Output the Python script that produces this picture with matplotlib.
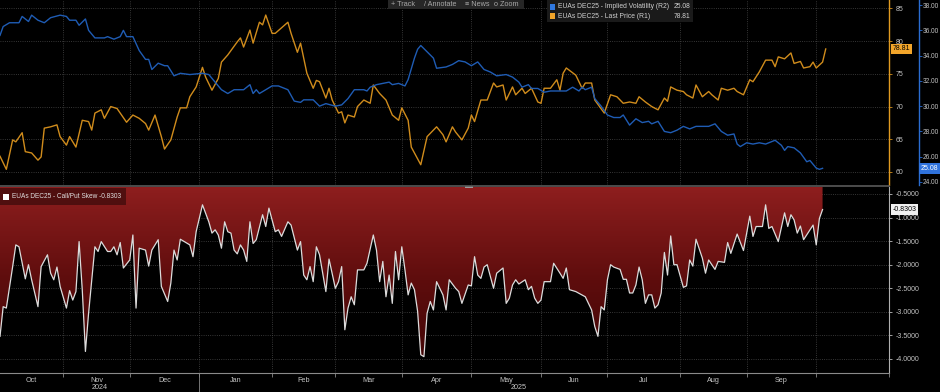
import numpy as np
import pandas as pd
import matplotlib
matplotlib.use('Agg')
import matplotlib.pyplot as plt
import matplotlib.transforms as mtransforms
from matplotlib.colors import LinearSegmentedColormap
from matplotlib.patches import Rectangle

plt.rcParams['font.family'] = ['Liberation Sans', 'DejaVu Sans']

# x values are trading days counted from the first date
start_date = '2024-10-04'

price_day = [0, 2, 4, 5, 7, 8, 10, 12, 13, 14,
             16, 18, 19, 21, 22, 24, 26, 28, 29, 30,
             32, 33, 35, 37, 40, 42, 44, 46, 47, 49,
             51, 52, 54, 56, 57, 59, 60, 62, 64, 65,
             67, 69, 70, 72, 75, 76, 77, 79, 80, 82,
             83, 84, 86, 87, 91, 92, 94, 95, 97, 99,
             100, 101, 103, 104, 105, 107, 108, 109, 110, 112,
             113, 115, 117, 118, 120, 121, 122, 124, 126, 127,
             129, 130, 133, 135, 137, 138, 140, 141, 143, 144,
             146, 148, 149, 150, 152, 154, 156, 157, 159, 160,
             162, 163, 165, 166, 168, 170, 171, 172, 174, 176,
             177, 178, 179, 182, 184, 185, 187, 188, 191, 193,
             195, 197, 199, 201, 202, 204, 206, 208, 210, 211,
             212, 214, 216, 217, 219, 220, 222, 224, 225, 227,
             228, 230, 232, 233, 235, 237, 238, 240, 242, 244,
             245, 246, 248, 250, 251, 253, 254, 256, 257, 258,
             260, 261]
price = [62.4, 60.4, 64.9, 64.6, 66.0, 63.1, 62.9, 61.8, 62.3, 66.7,
         66.9, 67.2, 65.4, 64.1, 65.4, 63.8, 67.9, 67.7, 66.4, 69.0,
         69.5, 68.2, 70.0, 69.7, 67.6, 68.7, 68.2, 67.4, 66.4, 68.7,
         65.4, 63.5, 64.9, 68.4, 69.8, 69.8, 71.5, 73.0, 76.0, 74.5,
         72.5, 74.3, 76.8, 77.9, 79.9, 80.5, 79.1, 81.7, 79.7, 82.9,
         82.5, 84.0, 81.2, 81.2, 82.9, 81.2, 78.3, 79.7, 75.1, 72.8,
         74.0, 73.8, 71.3, 72.8, 71.0, 69.0, 69.2, 67.5, 68.7, 68.4,
         70.0, 71.0, 70.5, 73.3, 72.0, 71.5, 71.0, 68.7, 67.9, 69.8,
         67.9, 63.8, 61.1, 65.4, 66.4, 66.9, 65.7, 64.6, 66.9, 66.1,
         64.9, 66.7, 68.7, 67.7, 71.0, 71.0, 73.6, 73.0, 73.3, 71.0,
         73.0, 71.8, 72.8, 72.0, 72.8, 70.7, 70.5, 72.8, 72.8, 74.1,
         72.5, 75.1, 75.9, 74.8, 72.8, 73.6, 73.6, 71.0, 69.0, 71.8,
         71.5, 70.5, 70.7, 70.5, 71.5, 70.7, 70.0, 69.5, 71.3, 70.8,
         73.0, 72.5, 72.3, 71.8, 71.3, 73.3, 71.5, 72.3, 71.8, 71.0,
         72.8, 72.5, 72.8, 72.3, 71.8, 74.1, 73.8, 75.3, 77.1, 77.1,
         76.1, 77.6, 77.3, 78.2, 76.6, 76.9, 75.9, 76.1, 76.8, 75.9,
         76.8, 78.81]

vol_day = [0, 1, 3, 6, 7, 9, 10, 12, 14, 16,
           19, 21, 22, 24, 25, 27, 28, 30, 33, 34,
           36, 38, 39, 40, 42, 44, 46, 47, 48, 50,
           52, 53, 55, 57, 60, 64, 66, 68, 70, 72,
           74, 77, 79, 80, 81, 82, 84, 86, 88, 91,
           93, 95, 96, 99, 101, 103, 106, 108, 110, 112,
           115, 116, 117, 119, 121, 123, 124, 126, 128, 129,
           131, 132, 133, 135, 137, 138, 141, 143, 145, 147,
           149, 151, 153, 155, 157, 160, 162, 164, 165, 167,
           168, 170, 172, 174, 176, 177, 179, 181, 183, 184,
           185, 187, 188, 190, 192, 194, 196, 197, 199, 201,
           203, 205, 206, 208, 210, 212, 214, 216, 218, 220,
           222, 224, 226, 228, 230, 232, 233, 234, 236, 238,
           240, 242, 244, 245, 247, 248, 249, 251, 253, 255,
           256, 258, 259, 260]
vol = [35.6, 36.3, 36.6, 36.6, 37.1, 36.7, 37.2, 36.8, 36.6, 37.0,
       37.2, 37.1, 36.8, 36.8, 36.4, 36.9, 36.0, 35.4, 35.4, 35.5,
       35.3, 35.5, 36.0, 35.5, 35.5, 34.4, 33.7, 33.7, 32.9, 33.4,
       33.2, 33.2, 32.4, 32.6, 32.5, 32.6, 32.5, 31.9, 31.3, 31.0,
       31.3, 31.3, 31.7, 31.0, 31.3, 31.0, 31.3, 31.6, 31.6, 31.3,
       30.4, 30.3, 30.5, 30.5, 30.0, 30.2, 30.0, 30.1, 30.6, 31.3,
       31.3, 31.2, 31.5, 31.7, 31.8, 31.9, 31.7, 31.8, 31.6, 32.1,
       33.8, 34.5, 34.8, 34.3, 33.8, 33.0, 33.1, 33.3, 33.6, 33.5,
       33.2, 33.5, 32.9, 32.7, 32.4, 32.5, 32.3, 31.9, 31.5, 31.7,
       31.4, 31.4, 31.1, 31.2, 31.2, 31.2, 31.2, 31.5, 31.2, 31.5,
       31.3, 31.5, 30.6, 30.0, 29.3, 29.1, 29.1, 29.3, 28.5, 29.0,
       28.7, 28.8, 28.6, 28.8, 28.0, 27.9, 28.1, 28.4, 28.2, 28.4,
       28.4, 28.4, 28.6, 28.0, 27.7, 27.8, 27.0, 26.8, 27.1, 27.0,
       27.1, 27.0, 27.2, 27.3, 26.9, 26.5, 26.8, 26.7, 26.3, 25.6,
       25.7, 25.1, 25.0, 25.08]

skew_day = [0, 1, 2, 4, 5, 6, 8, 9, 10, 12,
            13, 15, 16, 17, 18, 19, 21, 22, 23, 24,
            25, 26, 27, 28, 29, 30, 31, 32, 34, 35,
            36, 37, 38, 39, 41, 42, 43, 44, 46, 47,
            48, 50, 51, 53, 54, 55, 56, 57, 60, 61,
            62, 64, 66, 67, 68, 69, 70, 71, 72, 73,
            74, 75, 76, 77, 78, 79, 80, 81, 83, 84,
            85, 87, 88, 89, 91, 92, 94, 95, 96, 97,
            98, 99, 100, 101, 103, 104, 106, 107, 108, 109,
            110, 111, 112, 113, 115, 116, 118, 119, 120, 121,
            122, 123, 124, 125, 126, 127, 128, 129, 130, 131,
            132, 133, 134, 135, 136, 137, 138, 140, 141, 142,
            144, 145, 146, 148, 149, 150, 151, 152, 153, 154,
            155, 156, 157, 159, 160, 161, 162, 163, 164, 166,
            167, 168, 169, 170, 171, 172, 174, 175, 177, 178,
            179, 180, 182, 185, 186, 187, 188, 189, 190, 191,
            192, 193, 194, 196, 197, 198, 199, 200, 201, 202,
            203, 204, 205, 206, 207, 208, 209, 210, 211, 212,
            213, 214, 216, 217, 218, 219, 220, 222, 223, 224,
            226, 227, 229, 230, 231, 233, 235, 237, 238, 239,
            241, 242, 243, 244, 246, 248, 249, 250, 251, 252,
            253, 254, 257, 258, 259, 260]
skew = [-3.52, -2.89, -2.92, -2.04, -1.58, -1.62, -2.30, -2.00, -2.32, -2.89,
        -2.04, -1.79, -2.18, -2.32, -2.05, -2.46, -2.92, -2.55, -2.75, -2.57,
        -1.51, -2.53, -3.84, -3.03, -2.32, -1.62, -1.72, -1.51, -1.72, -1.72,
        -1.62, -1.79, -1.53, -2.07, -1.90, -1.37, -2.92, -1.65, -1.69, -2.03,
        -1.69, -1.47, -2.46, -2.78, -2.39, -1.69, -1.90, -1.46, -1.58, -1.83,
        -1.30, -0.73, -1.09, -1.33, -1.26, -1.37, -1.65, -1.09, -1.30, -1.33,
        -1.69, -1.77, -1.58, -1.69, -1.93, -1.09, -1.55, -1.47, -0.94, -1.19,
        -0.80, -1.30, -1.26, -1.40, -1.09, -1.16, -1.69, -1.51, -2.22, -2.32,
        -2.04, -2.36, -1.62, -1.79, -2.57, -1.88, -2.50, -2.36, -2.04, -3.38,
        -2.92, -2.68, -2.85, -2.11, -2.11, -1.97, -1.37, -1.69, -2.36, -1.93,
        -2.68, -2.22, -2.82, -1.72, -2.32, -1.62, -2.11, -2.64, -2.39, -2.53,
        -2.99, -3.91, -3.95, -3.03, -2.78, -2.96, -2.36, -2.64, -2.96, -2.32,
        -2.50, -2.57, -2.82, -2.43, -2.45, -1.83, -2.22, -2.29, -2.05, -2.00,
        -2.25, -2.50, -2.18, -2.07, -2.82, -2.71, -2.43, -2.32, -2.41, -2.32,
        -2.53, -2.46, -2.71, -2.82, -2.75, -2.36, -2.36, -1.97, -2.18, -2.29,
        -2.07, -2.53, -2.57, -2.68, -2.82, -2.96, -3.31, -3.52, -2.89, -2.96,
        -2.32, -2.00, -2.05, -2.10, -2.31, -2.31, -2.60, -2.60, -2.43, -2.05,
        -2.32, -2.82, -2.64, -2.64, -2.92, -2.85, -2.60, -1.74, -2.22, -1.39,
        -2.00, -2.00, -2.48, -2.45, -1.90, -2.03, -1.46, -1.86, -2.18, -1.90,
        -2.10, -1.93, -1.95, -1.53, -1.76, -1.35, -1.70, -0.97, -1.40, -1.19,
        -1.19, -0.73, -1.23, -1.19, -1.51, -0.90, -1.19, -0.94, -1.05, -1.33,
        -1.18, -1.47, -1.16, -1.58, -1.02, -0.83]

price_ticks = [60, 65, 70, 75, 80, 85]
vol_ticks = [24, 26, 28, 30, 32, 34, 36, 38]
skew_ticks = [-4.0, -3.5, -3.0, -2.5, -2.0, -1.5, -1.0, -0.5]

last_price = 78.81
last_vol = 25.08
last_skew = -0.8303

price_name = 'EUAs DEC25 - Last Price (R1)'
vol_name = 'EUAs DEC25 - Implied Volatility (R2)'
skew_name = 'EUAs DEC25 - Call/Put Skew'

ORANGE = '#d08c1c'
BLUE = '#1f5cb4'
GRID = '#484848'
TXT = '#c4c4c4'

W, H = 940, 392
fig = plt.figure(figsize=(W / 100, H / 100), dpi=100, facecolor='black')


def fig_box(x0, y0, x1, y1):
    # pixel box (top-left origin) -> figure fractions
    return [x0 / W, 1 - y1 / H, (x1 - x0) / W, (y1 - y0) / H]


ax1 = fig.add_axes(fig_box(0, 0, 889, 185))
ax2 = fig.add_axes(fig_box(0, 187, 889, 373), sharex=ax1)
axv = ax1.twinx()

# trading-day calendar for month ticks
cal = pd.bdate_range(start_date, periods=300)
ym = cal.year * 12 + cal.month
month_starts = [i for i in range(1, len(cal)) if ym[i] != ym[i - 1]]
xmax = 264.6

for ax in (ax1, ax2, axv):
    ax.set_facecolor('black')
    for s in ax.spines.values():
        s.set_visible(False)

# top panel
ax1.plot(price_day, price, color=ORANGE, lw=1.0, zorder=3)
axv.plot(vol_day, vol, color=BLUE, lw=1.0, zorder=3)
ax1.set_ylim(58.0, 86.3)
axv.set_ylim(23.76, 38.4)
ax1.set_xlim(0, xmax)

ax1.set_xticks(month_starts)
ax1.tick_params(axis='x', length=0, labelbottom=False)
ax1.yaxis.tick_right()
ax1.set_yticks(price_ticks)
ax1.set_yticklabels([str(t) for t in price_ticks])
ax1.tick_params(axis='y', colors=ORANGE, labelcolor=TXT, labelsize=5, length=2.5, width=0.6, pad=2)
ax1.spines['right'].set_visible(True)
ax1.spines['right'].set_color('#e09a20')
ax1.spines['right'].set_linewidth(1.0)
ax1.grid(True, linestyle=':', color=GRID, lw=0.6)
ax1.set_axisbelow(True)

axv.set_yticks(vol_ticks)
axv.set_yticklabels([f'{t:.2f}' for t in vol_ticks])
axv.spines['right'].set_visible(True)
axv.spines['right'].set_position(('axes', 919 / 889))
axv.spines['right'].set_color('#2a6cd0')
axv.spines['right'].set_linewidth(1.0)
axv.tick_params(axis='y', colors='#2a6cd0', labelcolor=TXT, labelsize=4.7, length=2, width=0.6, pad=1)

# bottom panel
ylo, yhi = -4.297, -0.352
poly = ax2.fill_between(skew_day, skew, yhi, facecolor='none', edgecolor='none')
grad = np.linspace(0, 1, 256).reshape(-1, 1)
cmap = LinearSegmentedColormap.from_list('red', ['#3e0505', '#5e0d0d', '#8e1e1e'])
im = ax2.imshow(grad, extent=[skew_day[0], skew_day[-1], ylo, yhi], origin='lower',
                aspect='auto', cmap=cmap, zorder=2)
im.set_clip_path(poly.get_paths()[0], transform=ax2.transData)
ax2.plot(skew_day, skew, color='#dcdcdc', lw=0.9, zorder=3)
ax2.set_ylim(ylo, yhi)
ax2.set_xlim(0, xmax)

ax2.yaxis.tick_right()
ax2.set_yticks(skew_ticks)
ax2.set_yticklabels([f'{t:.4f}' for t in skew_ticks])
ax2.tick_params(axis='y', colors='#bbbbbb', labelcolor=TXT, labelsize=5, length=2.5, width=0.6, pad=2)
ax2.set_xticks(month_starts)
ax2.tick_params(axis='x', colors='#888888', length=3, width=0.6, labelbottom=False)
ax2.spines['right'].set_visible(True)
ax2.spines['right'].set_color('#b0b0b0')
ax2.spines['right'].set_linewidth(0.8)
ax2.spines['bottom'].set_visible(True)
ax2.spines['bottom'].set_color('#8a8a8a')
ax2.spines['bottom'].set_linewidth(0.8)
ax2.grid(True, linestyle=':', color=GRID, lw=0.6)
ax2.set_axisbelow(True)

# month and year labels
xt = ax2.get_xaxis_transform()
bounds = [0] + month_starts
for a, b in zip(bounds[:-1], bounds[1:]):
    if b > xmax + 5:
        break
    ax2.text((a + b) / 2, -0.038, cal[a].strftime('%b'), transform=xt,
             ha='center', va='center', fontsize=5.2, color=TXT)
jan = next(i for i in month_starts if cal[i].month == 1)
ax2.text(jan / 2, -0.08, str(cal[0].year), transform=xt, ha='center', va='center',
         fontsize=5.2, color=TXT)
ax2.text((jan + xmax) / 2, -0.08, str(cal[jan].year), transform=xt, ha='center',
         va='center', fontsize=5.2, color=TXT)
ax2.plot([jan, jan], [0, -0.11], transform=xt, clip_on=False, color='#888888', lw=0.6)

# last value tags
bt1 = mtransforms.blended_transform_factory(ax1.transAxes, ax1.transData)
ax1.text(1.004, last_price, f'{last_price:.2f}', transform=bt1, ha='left', va='center',
         fontsize=5, color='black',
         bbox=dict(boxstyle='square,pad=0.25', fc='#f2a52a', ec='none'))
btv = mtransforms.blended_transform_factory(axv.transAxes, axv.transData)
axv.text(921 / 889, last_vol, f'{last_vol:.2f}', transform=btv, ha='left', va='center',
         fontsize=5, color='white',
         bbox=dict(boxstyle='square,pad=0.25', fc='#2f72dc', ec='none'))
bt2 = mtransforms.blended_transform_factory(ax2.transAxes, ax2.transData)
ax2.text(1.004, last_skew, f'{last_skew:.4f}', transform=bt2, ha='left', va='center',
         fontsize=5, color='black',
         bbox=dict(boxstyle='square,pad=0.25', fc='#f0f0f0', ec='none'))


def px(x, y):
    return x / W, 1 - y / H


# panel separator
fig.add_artist(plt.Line2D([0, 889 / W], [1 - 186 / H] * 2, color='#5a5a5a', lw=1.2))
fig.add_artist(Rectangle(px(465, 188), 8 / W, 2 / H, fc='#9a9a9a', ec='none'))

# toolbar
fig.add_artist(Rectangle(px(388, 9), 136 / W, 9 / H, fc='#262626', ec='none'))
for x, label in [(391, '+ Track'), (424, '/ Annotate'), (465, '\u2261 News'), (494, 'o Zoom')]:
    fig.text(*px(x, 4), label, fontsize=5.2, color='#a8a8a8', va='center', ha='left')

# top legend
fig.add_artist(Rectangle(px(547, 22), 146 / W, 22 / H, fc='#1a1a1a', ec='none'))
for yy, col, name, val in [(7, '#2f78e0', vol_name, last_vol), (16, '#f2a52a', price_name, last_price)]:
    fig.add_artist(Rectangle(px(550, yy + 3), 5 / W, 6 / H, fc=col, ec='none'))
    fig.text(*px(558, yy), name, fontsize=4.9, color='#d0d0d0', va='center', ha='left')
    fig.text(*px(690, yy), f'{val:.2f}', fontsize=4.9, color='#d0d0d0', va='center', ha='right')

# bottom legend
fig.add_artist(Rectangle(px(0, 205), 126 / W, 17 / H, fc='#4a0e0e', ec='none', alpha=0.9))
fig.add_artist(Rectangle(px(3, 200), 6 / W, 6 / H, fc='white', ec='none'))
fig.text(*px(12, 197), f'{skew_name} {last_skew:.4f}', fontsize=4.7, color='#e0e0e0',
         va='center', ha='left')

fig.savefig('out.png', dpi=100, facecolor='black')
